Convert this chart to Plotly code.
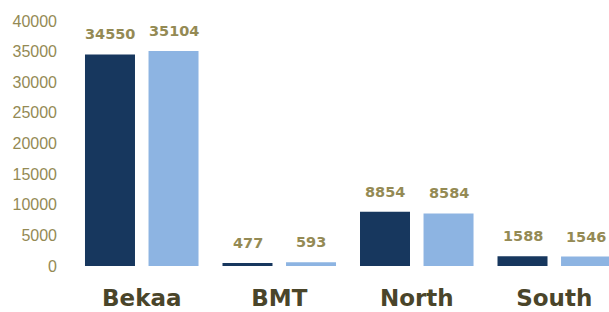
import plotly.graph_objects as go

categories = ["Bekaa", "BMT", "North", "South"]
series_a = [34550, 477, 8854, 1588]
series_b = [35104, 593, 8584, 1546]
y_ticks = [0, 5000, 10000, 15000, 20000, 25000, 30000, 35000, 40000]

dark = "#17375E"
light = "#8DB4E2"
label_col = "#948A54"
cat_col = "#4A452A"

fig = go.Figure()
fig.add_trace(go.Bar(x=categories, y=series_a, marker=dict(color=dark, line=dict(width=0)),
                     showlegend=False, hoverinfo="skip"))
fig.add_trace(go.Bar(x=categories, y=series_b, marker=dict(color=light, line=dict(width=0)),
                     showlegend=False, hoverinfo="skip"))

annotations = []
for vals, shift in ((series_a, -31.75), (series_b, 31.75)):
    for c, v in zip(categories, vals):
        annotations.append(dict(x=c, y=v, xref="x", yref="y", text=str(v), showarrow=False,
                                xshift=shift, yshift=10, yanchor="bottom",
                                font=dict(family="DejaVu Sans", size=14.5, color=label_col,
                                          weight="bold")))

fig.update_layout(
    width=609, height=312,
    margin=dict(l=73, r=0, t=21, b=46),
    paper_bgcolor="white", plot_bgcolor="white",
    barmode="group", bargap=0.076, bargroupgap=0.213,
    annotations=annotations,
    xaxis=dict(range=[-0.5, 3.398], showgrid=False, zeroline=False, showline=False,
               ticks="", ticklabelstandoff=16, automargin=False,
               tickfont=dict(family="DejaVu Sans", size=23, color=cat_col, weight="bold")),
    yaxis=dict(range=[0, 40000], tickvals=y_ticks, tickformat="d", showgrid=False, zeroline=False,
               showline=False, ticks="", ticklabelstandoff=15, automargin=False,
               tickfont=dict(family="Liberation Sans", size=16, color=label_col)),
)

fig.write_html("out.html", config={"displayModeBar": False, "staticPlot": True},
               post_script="document.body.style.margin='0';document.body.style.overflow='hidden';")
